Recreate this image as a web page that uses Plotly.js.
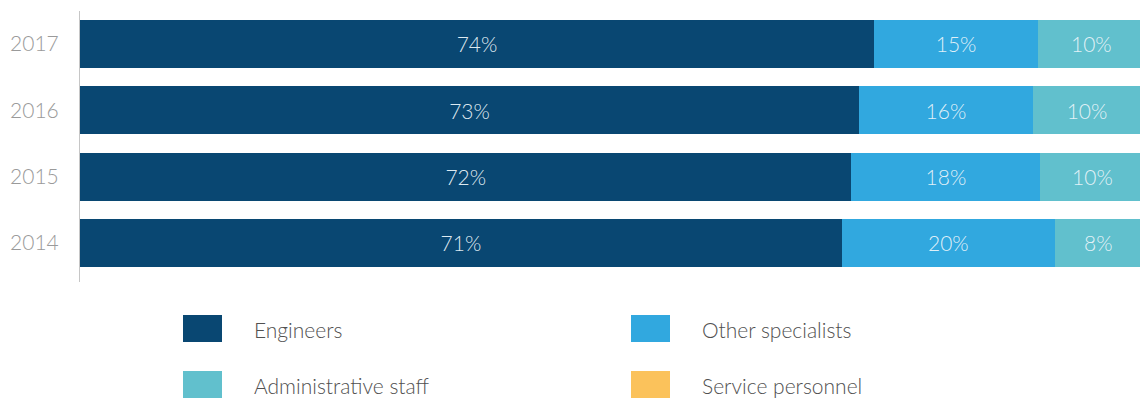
<!DOCTYPE html>
<html>
<head>
<meta charset="utf-8">
<script src="https://cdn.plot.ly/plotly-3.0.1.min.js"></script>
<style>
html, body { margin:0; padding:0; overflow:hidden; background:#fff; width:1140px; height:398px; }
#chart { width:1160px; height:398px; }
</style>
</head>
<body>
<div id="chart"></div>
<script>
// Data
const years = ['2014', '2015', '2016', '2017'];
const seriesNames = ['Engineers', 'Other specialists', 'Administrative staff', 'Service personnel'];
const engineers = [71.0, 71.9, 72.6, 74.0];
const otherSpecialists = [19.85, 17.6, 16.2, 15.3];
const adminStaff = [8.1, 9.7, 10.1, 9.9];
const servicePersonnel = [1.05, 0.8, 1.1, 0.8];
const seriesColors = ['#094772', '#31a8df', '#61c0cd', '#fbc25b'];

const seriesValues = [engineers, otherSpecialists, adminStaff, servicePersonnel];

// Layout geometry (pixels)
const W = 1160, H = 398;
const mL = 80, mR = 7, mT = 11, mB = 116;
const plotW = W - mL - mR, plotH = H - mT - mB;
const px = x => (x - mL) / plotW;
const py = y => (H - mB - y) / plotH;

const font = 'Lato, "Open Sans", sans-serif';

const traces = seriesValues.map((vals, i) => ({
  type: 'bar',
  orientation: 'h',
  name: seriesNames[i],
  y: years,
  x: vals,
  marker: { color: seriesColors[i] },
  texttemplate: i === 3 ? '' : '%{x:.0f}%',
  textposition: i === 3 ? 'none' : 'inside',
  insidetextanchor: 'middle',
  constraintext: 'none',
  textfont: { family: font, size: 21, color: 'rgba(235,245,250,0.95)', weight: 300 },
  hoverinfo: 'none',
  showlegend: false
}));

// Custom legend: 2 columns x 2 rows
const legendCols = [183, 631];
const legendRows = [315, 371];
const swW = 39, swH = 27, txtGap = 30;
const shapes = [];
const annotations = [];
seriesNames.forEach((name, i) => {
  const col = i % 2, row = Math.floor(i / 2);
  const x0 = legendCols[col], y0 = legendRows[row];
  shapes.push({
    type: 'rect', xref: 'paper', yref: 'paper',
    x0: px(x0), x1: px(x0 + swW), y0: py(y0 + swH), y1: py(y0),
    fillcolor: seriesColors[i], line: { width: 0 }
  });
  annotations.push({
    xref: 'paper', yref: 'paper',
    x: px(x0 + swW + txtGap), y: py(y0 + swH / 2 + 1),
    xanchor: 'left', yanchor: 'middle', showarrow: false,
    text: name,
    font: { family: font, size: 21, color: '#505050', weight: 300 }
  });
});

const layout = {
  width: W, height: H,
  margin: { l: mL, r: mR, t: mT, b: mB, pad: 0 },
  barmode: 'stack',
  bargap: 0.276,
  paper_bgcolor: '#ffffff',
  plot_bgcolor: '#ffffff',
  showlegend: false,
  xaxis: {
    range: [0, 100], visible: false, fixedrange: true
  },
  yaxis: {
    type: 'category',
    categoryorder: 'array', categoryarray: years,
    range: [-0.588, 3.497],
    showline: true, linecolor: '#c6c6c6', linewidth: 1,
    showgrid: false, zeroline: false,
    ticks: 'outside', ticklen: 16, tickcolor: 'rgba(0,0,0,0)',
    tickfont: { family: font, size: 21, color: '#9a9a9a', weight: 300 },
    fixedrange: true
  },
  shapes: shapes,
  annotations: annotations
};

Plotly.newPlot('chart', traces, layout, { staticPlot: true, displayModeBar: false });
</script>
</body>
</html>
